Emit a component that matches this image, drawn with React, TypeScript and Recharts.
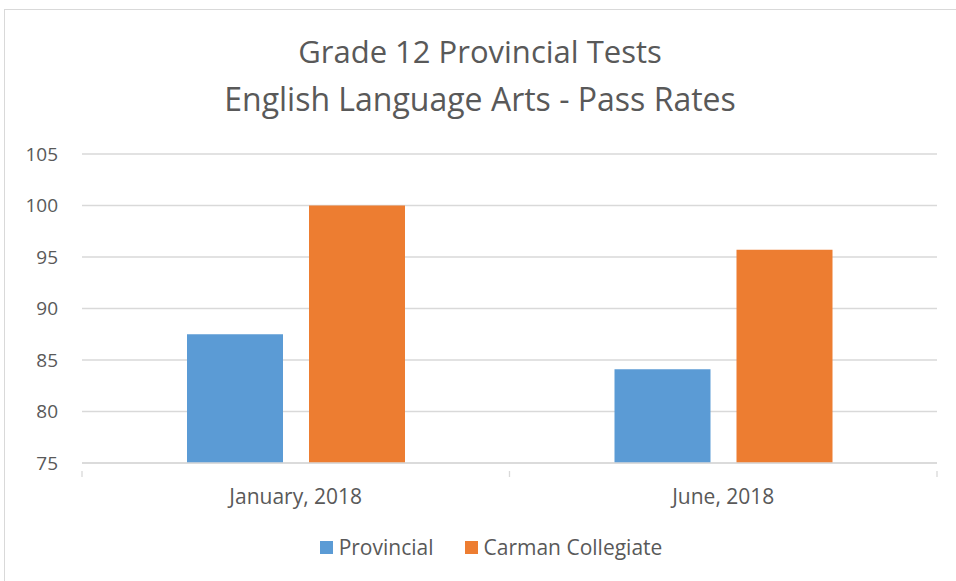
import { BarChart, Bar, XAxis, YAxis, CartesianGrid } from "recharts";

const CATEGORIES = ["January, 2018", "June, 2018"];
const PROVINCIAL = [87.5, 84.1];
const CARMAN = [100, 95.7];
const Y_TICKS = [75, 80, 85, 90, 95, 100, 105];

const SERIES = [
  { key: "provincial", label: "Provincial", color: "#5B9BD5" },
  { key: "carman", label: "Carman Collegiate", color: "#ED7D31" },
];

const data = CATEGORIES.map((name, i) => ({
  name,
  provincial: PROVINCIAL[i],
  carman: CARMAN[i],
}));

const FONT = "'Open Sans', sans-serif";
const TEXT = "#595959";
const GRID = "#d9d9d9";

// Excel puts tick marks at category edges, not centers
function CategoryTick(props: any) {
  const { x, y, payload, index } = props;
  const half = 213.75;
  return (
    <g>
      <line x1={x - half} x2={x - half} y1={y} y2={y + 6} stroke={GRID} strokeWidth={1.3} />
      {index === CATEGORIES.length - 1 && (
        <line x1={x + half} x2={x + half} y1={y} y2={y + 6} stroke={GRID} strokeWidth={1.3} />
      )}
      <text x={x} y={y + 33} textAnchor="middle" fill={TEXT} fontSize={21} fontFamily={FONT}>
        {payload.value}
      </text>
    </g>
  );
}

function ChartLegend() {
  return (
    <div
      style={{
        position: "absolute",
        left: 13,
        width: 956,
        top: 532,
        display: "flex",
        justifyContent: "center",
        gap: 31,
        fontFamily: FONT,
        fontSize: 21,
        lineHeight: "30px",
        color: TEXT,
      }}
    >
      {SERIES.map((s) => (
        <div key={s.key} style={{ display: "flex", alignItems: "center", gap: 6 }}>
          <span style={{ display: "inline-block", width: 13, height: 13, background: s.color }} />
          <span>{s.label}</span>
        </div>
      ))}
    </div>
  );
}

export default function App() {
  const titleLine = { textAlign: "center" as const, fontFamily: FONT, lineHeight: "48px", color: TEXT };
  return (
    <div style={{ position: "absolute", left: 0, top: 0, width: 956, height: 581, overflow: "hidden", background: "#fff" }}>
      <div style={{ position: "absolute", left: 4, top: 9, width: 980, height: 600, border: `1.5px solid ${GRID}` }} />
      <div style={{ position: "absolute", left: 2, width: 956, top: 27 }}>
        <div style={{ ...titleLine, fontSize: 31 }}>Grade 12 Provincial Tests</div>
        <div style={{ ...titleLine, fontSize: 32 }}>English Language Arts - Pass Rates</div>
      </div>
      <BarChart
        width={956}
        height={581}
        data={data}
        margin={{ top: 154, right: 19, bottom: 58, left: 0 }}
        barSize={96}
        barGap={26}
        style={{ position: "absolute", left: 0, top: 0 }}
      >
        <CartesianGrid vertical={false} stroke={GRID} strokeWidth={1.3} />
        <XAxis
          dataKey="name"
          height={60}
          axisLine={{ stroke: GRID, strokeWidth: 1.3 }}
          tickLine={false}
          tick={<CategoryTick />}
          interval={0}
        />
        <YAxis
          width={82}
          domain={[75, 105]}
          ticks={Y_TICKS}
          axisLine={false}
          tickLine={false}
          tickSize={0}
          tickMargin={24}
          tick={{ fill: TEXT, fontSize: 19, fontFamily: FONT }}
        />
        {SERIES.map((s) => (
          <Bar key={s.key} dataKey={s.key} name={s.label} fill={s.color} isAnimationActive={false} />
        ))}
      </BarChart>
      <ChartLegend />
    </div>
  );
}
